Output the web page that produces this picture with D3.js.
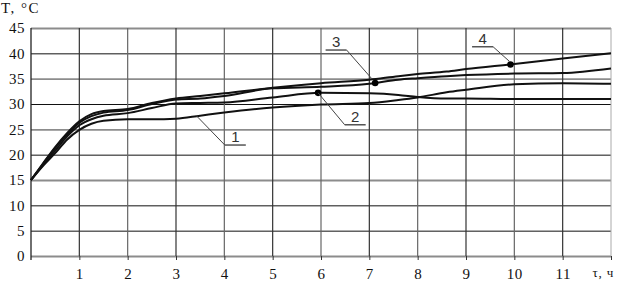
<!DOCTYPE html>
<html>
<head>
<meta charset="utf-8">
<script src="https://cdn.jsdelivr.net/npm/d3@7"></script>
<style>
  body { margin: 0; background: #fff; }
  svg { display: block; }
</style>
</head>
<body>
<div class="board"></div>
<script>
// hours (τ, ч) and temperatures (T, °C) for curves 1..4
var hours = [0, 0.25, 0.5, 0.75, 1, 1.25, 1.5, 2, 2.5, 3, 3.5, 4, 5, 6, 7, 7.6, 8, 8.6, 9, 10, 11, 12];
var curve1 = [15, 17.8, 20.3, 23.0, 24.9, 26.1, 26.7, 27.0, 27.0, 27.1, 27.7, 28.3, 29.3, 29.9, 30.2, 30.8, 31.3, 32.3, 32.8, 33.9, 34.1, 34.0];
var curve2 = [15, 18.0, 20.8, 23.6, 25.8, 27.0, 27.7, 28.2, 29.2, 30.1, 30.2, 30.3, 31.3, 32.2, 32.1, 31.8, 31.4, 31.1, 31.1, 31.0, 31.0, 31.0];
var curve3 = [15, 18.2, 21.3, 24.0, 26.3, 27.6, 28.3, 28.8, 30.0, 30.9, 31.1, 31.6, 33.1, 33.4, 34.0, 34.8, 35.1, 35.5, 35.7, 36.0, 36.1, 37.0];
var curve4 = [15, 18.3, 21.5, 24.3, 26.6, 28.0, 28.6, 29.0, 30.2, 31.1, 31.6, 32.1, 33.2, 34.1, 34.8, 35.5, 35.9, 36.4, 36.9, 37.9, 39.0, 40.0];

var yTicks = [0, 5, 10, 15, 20, 25, 30, 35, 40, 45];
var xTicks = [1, 2, 3, 4, 5, 6, 7, 8, 9, 10, 11];

// dots on curves 2, 3, 4
var markerHours = [5.94, 7.12, 9.92];
var markerTemps = [32.2, 34.15, 37.8];

// curve labels: text, point on curve, end of leader (where the shelf starts)
var labelNames = ['1', '2', '3', '4'];
var labelCurveHours = [3.42, 5.94, 7.05, 9.9];
var labelCurveTemps = [27.7, 32.2, 35.0, 38.4];
var labelShelfHours = [4.01, 6.49, 6.53, 9.56];
var labelShelfTemps = [21.9, 25.9, 40.65, 41.3];
var labelShelfDir = [1, 1, -1, -1];

var width = 618, height = 281;
var plotLeft = 31, plotRight = 611, plotTop = 28, plotBottom = 256;

var svg = d3.select('.board').append('svg')
            .attr('width', width)
            .attr('height', height);

var x = d3.scaleLinear().domain([0, 12]).range([plotLeft, plotRight]);
var y = d3.scaleLinear().domain([0, 45]).range([plotBottom, plotTop]);

var serif = '"Liberation Serif", "Times New Roman", serif';

var isGray = function(d) { return (d % 10 === 5 && d !== 5) || d === 0; };

// horizontal grid + y labels
var yAxis = svg.append('g')
               .attr('transform', 'translate(' + plotLeft + ',0)')
               .call(d3.axisLeft(y).tickValues(yTicks).tickSize(-(plotRight - plotLeft)).tickPadding(6));
yAxis.select('.domain').remove();
yAxis.selectAll('.tick line')
     .attr('stroke', function(d) { return isGray(d) ? '#8c8c8c' : '#111'; })
     .attr('stroke-width', function(d) { return isGray(d) ? 1.8 : 1; });
yAxis.selectAll('.tick text')
     .attr('font-family', serif)
     .attr('font-size', 15)
     .attr('letter-spacing', 0.5)
     .attr('fill', '#111');

// vertical grid
svg.append('g').selectAll('line')
   .data(xTicks.concat([12]))
   .enter()
   .append('line')
   .attr('x1', function(d) { return x(d); })
   .attr('x2', function(d) { return x(d); })
   .attr('y1', plotTop)
   .attr('y2', plotBottom)
   .attr('stroke', function(d) { return d === 12 ? '#aaa' : (d % 2 === 0 ? '#666' : '#333'); })
   .attr('stroke-width', function(d) { return d === 12 ? 1 : 1.2; });

// y axis line
svg.append('line')
   .attr('x1', plotLeft).attr('x2', plotLeft)
   .attr('y1', plotTop).attr('y2', plotBottom + 4)
   .attr('stroke', '#222')
   .attr('stroke-width', 1.3);

// x axis ticks + labels
var xAxis = svg.append('g')
               .attr('transform', 'translate(0,' + plotBottom + ')')
               .call(d3.axisBottom(x).tickValues(xTicks.concat([12])).tickSize(4).tickPadding(8)
                       .tickFormat(function(d) { return d === 12 ? '' : d; }));
xAxis.select('.domain').remove();
xAxis.selectAll('.tick line').attr('stroke', '#333');
xAxis.selectAll('.tick text')
     .attr('font-family', serif)
     .attr('font-size', 15)
     .attr('letter-spacing', 0.5)
     .attr('fill', '#111');

// axis titles
svg.append('text')
   .attr('x', 1)
   .attr('y', 13)
   .attr('font-family', serif)
   .attr('font-size', 15)
   .attr('letter-spacing', 1.5)
   .attr('fill', '#111')
   .text('T, °C');

svg.append('text')
   .attr('x', 614)
   .attr('y', 277)
   .attr('text-anchor', 'end')
   .attr('font-family', serif)
   .attr('font-size', 13)
   .attr('letter-spacing', 0.8)
   .attr('fill', '#111')
   .text('τ, ч');

// curves
var line = d3.line()
             .x(function(d) { return x(d[0]); })
             .y(function(d) { return y(d[1]); })
             .curve(d3.curveMonotoneX);

var series = [curve1, curve2, curve3, curve4];
svg.append('g').selectAll('path')
   .data(series)
   .enter()
   .append('path')
   .attr('d', function(s) { return line(hours.map(function(h, i) { return [h, s[i]]; })); })
   .attr('fill', 'none')
   .attr('stroke', '#111')
   .attr('stroke-width', 2);

// markers
svg.append('g').selectAll('circle')
   .data(markerHours)
   .enter()
   .append('circle')
   .attr('cx', function(d) { return x(d); })
   .attr('cy', function(d, i) { return y(markerTemps[i]); })
   .attr('r', 3.3)
   .attr('fill', '#000');

// labels with leaders
var labels = svg.append('g').selectAll('g')
                .data(labelNames)
                .enter()
                .append('g');

labels.append('line')
      .attr('x1', function(d, i) { return x(labelCurveHours[i]); })
      .attr('y1', function(d, i) { return y(labelCurveTemps[i]); })
      .attr('x2', function(d, i) { return x(labelShelfHours[i]); })
      .attr('y2', function(d, i) { return y(labelShelfTemps[i]); })
      .attr('stroke', '#444')
      .attr('stroke-width', 1);

labels.append('line')
      .attr('x1', function(d, i) { return x(labelShelfHours[i]); })
      .attr('y1', function(d, i) { return y(labelShelfTemps[i]); })
      .attr('x2', function(d, i) { return x(labelShelfHours[i]) + labelShelfDir[i] * 21; })
      .attr('y2', function(d, i) { return y(labelShelfTemps[i]); })
      .attr('stroke', '#555')
      .attr('stroke-width', 1.5);

labels.append('text')
      .attr('x', function(d, i) { return x(labelShelfHours[i]) + labelShelfDir[i] * 10.5; })
      .attr('y', function(d, i) { return y(labelShelfTemps[i]) - 3; })
      .attr('text-anchor', 'middle')
      .attr('font-family', '"Liberation Sans", Arial, sans-serif')
      .attr('font-size', 15)
      .attr('fill', '#333')
      .text(function(d) { return d; });
</script>
</body>
</html>
